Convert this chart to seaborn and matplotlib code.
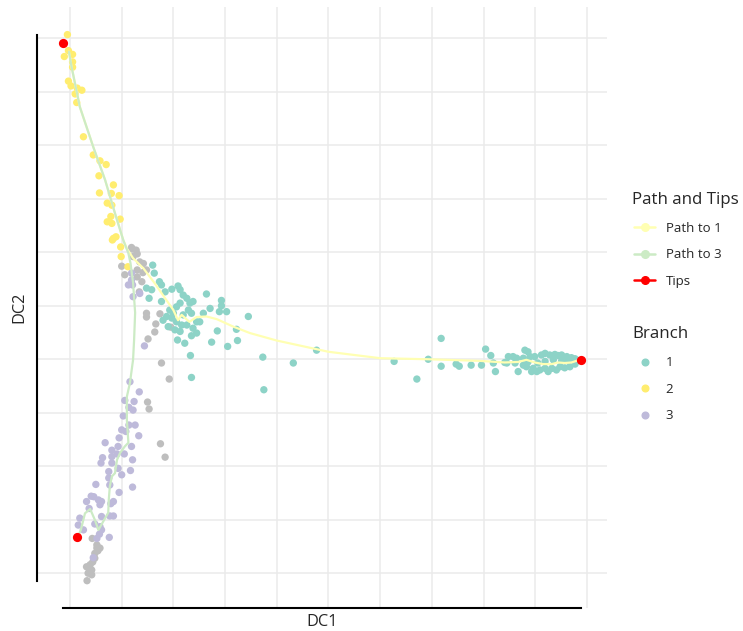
import numpy as np
import pandas as pd
import matplotlib
matplotlib.use("Agg")
import matplotlib.pyplot as plt
from matplotlib.lines import Line2D
from matplotlib.ticker import MultipleLocator
import seaborn as sns

# diffusion map coordinates (DC1, DC2), one array per branch
unassigned = np.array([
    [1.19, 6.09], [1.28, 6.04], [1.30, 5.97], [1.22, 5.92], [1.35, 5.82], [1.42, 5.79],
    [1.00, 5.74], [1.30, 5.67], [1.41, 5.62], [1.48, 5.67], [1.06, 5.58], [1.30, 5.54],
    [1.39, 5.45], [1.34, 5.26], [1.21, 6.06], [1.48, 4.86], [1.48, 4.79], [1.74, 4.85],
    [1.66, 4.66], [1.64, 4.51], [1.51, 4.38], [1.95, 4.60], [1.77, 3.93], [1.92, 3.63],
    [1.50, 3.20], [1.53, 3.07], [1.75, 2.42], [1.84, 2.17], [0.43, 0.65], [0.52, 0.53],
    [0.52, 0.47], [0.58, 0.47], [0.48, 0.37], [0.48, 0.28], [0.32, 0.12], [0.39, 0.16],
    [0.42, 0.06], [0.35, 0.00], [0.42, -0.03], [0.33, -0.14], [0.44, 0.21], [0.54, 0.42],
])

branch1 = np.array([
    [1.60, 5.76], [1.63, 5.61], [1.73, 5.45], [1.77, 5.39], [1.48, 5.33], [1.58, 5.30],
    [1.53, 5.14], [1.84, 5.26], [1.97, 5.31], [2.09, 5.37], [2.13, 5.30], [2.19, 5.20],
    [2.26, 5.14], [2.38, 5.08], [2.32, 5.05], [2.13, 5.05], [2.06, 4.98], [1.93, 4.92],
    [2.00, 4.86], [2.29, 4.92], [2.35, 4.86], [2.19, 4.83], [1.80, 4.73], [1.87, 4.80],
    [1.97, 4.77], [2.06, 4.70], [2.16, 4.64], [2.03, 4.55], [2.13, 4.52], [2.26, 4.64],
    [2.38, 4.58], [2.45, 4.49], [2.35, 4.44], [2.51, 4.70], [2.58, 4.86], [2.71, 4.95],
    [2.64, 5.22], [2.93, 5.10], [2.93, 5.00], [2.89, 4.89], [3.03, 4.89], [2.85, 4.53],
    [2.74, 4.32], [3.05, 4.24], [3.22, 4.56], [3.24, 4.35], [3.45, 4.80], [2.08, 4.36],
    [2.22, 4.30], [2.33, 4.07], [2.35, 3.66], [3.73, 4.04], [3.75, 3.43], [2.45, 4.70],
    [1.77, 5.08], [1.90, 4.61], [4.32, 3.93], [4.77, 4.17], [6.27, 3.96], [6.71, 3.63],
    [6.93, 4.00], [7.18, 4.39], [7.18, 3.87], [7.47, 3.91], [7.53, 3.87], [7.76, 3.89],
    [7.96, 3.89], [8.04, 4.19], [8.14, 4.07], [8.19, 3.93], [8.23, 3.77], [8.41, 3.94],
    [8.48, 4.05], [8.57, 4.05], [8.64, 4.02], [8.45, 3.93], [8.61, 3.93], [8.67, 3.77],
    [8.80, 4.17], [8.86, 4.14], [8.77, 4.02], [8.90, 4.05], [8.99, 4.05], [8.96, 3.83],
    [9.03, 3.77], [9.09, 3.80], [9.19, 3.83], [9.25, 3.77], [8.93, 3.77], [9.12, 4.08],
    [9.19, 4.11], [9.28, 4.08], [9.38, 4.09], [9.44, 4.07], [9.51, 4.08], [9.61, 4.05],
    [9.70, 4.03], [9.77, 4.01], [9.32, 3.83], [9.41, 3.80], [9.48, 3.86], [9.57, 3.84],
    [9.67, 3.86], [9.77, 3.91], [9.35, 3.99], [9.19, 3.96], [9.51, 3.97], [9.64, 3.97],
    [8.77, 3.89], [8.83, 3.86], [9.05, 3.93], [8.86, 3.95],
])

branch2 = np.array([
    [-0.05, 10.07], [-0.11, 9.66], [-0.03, 9.77], [0.05, 9.70], [0.05, 9.56], [0.05, 9.46],
    [-0.03, 9.20], [0.02, 9.11], [0.14, 9.07], [0.23, 9.03], [0.10, 8.96], [0.13, 8.80],
    [0.26, 8.16], [0.45, 7.82], [0.58, 7.71], [0.70, 7.64], [0.56, 7.43], [0.84, 7.26],
    [0.80, 7.10], [0.95, 7.06], [0.57, 7.11], [0.72, 6.92], [0.81, 6.88], [0.79, 6.67],
    [0.97, 6.62], [0.72, 6.57], [0.81, 6.54], [0.89, 6.29], [0.82, 6.23], [0.98, 6.10],
    [0.99, 5.92], [1.12, 5.73], [0.84, 6.26],
])

branch3 = np.array([
    [1.44, 4.25], [1.21, 5.39], [1.19, 5.48], [1.22, 5.17], [1.35, 5.23], [1.13, 5.39],
    [1.19, 5.61], [1.16, 3.58], [1.34, 3.39], [1.06, 3.23], [1.24, 3.21], [1.14, 3.10],
    [1.22, 3.05], [1.03, 2.94], [1.14, 2.77], [1.26, 2.77], [1.00, 2.68], [1.08, 2.65],
    [1.33, 2.57], [0.95, 2.53], [0.68, 2.44], [0.93, 2.37], [0.81, 2.30], [1.19, 2.37],
    [1.05, 2.23], [0.91, 2.23], [0.81, 2.18], [0.63, 2.16], [0.60, 2.06], [0.81, 2.06],
    [1.21, 2.12], [0.93, 1.96], [0.75, 1.90], [1.17, 1.92], [1.00, 1.84], [0.75, 1.78],
    [0.77, 1.65], [0.50, 1.66], [1.21, 1.61], [0.95, 1.51], [0.41, 1.44], [0.46, 1.43],
    [0.55, 1.37], [0.61, 1.34], [0.32, 1.34], [0.84, 1.34], [0.79, 1.30], [0.37, 1.21],
    [0.58, 1.28], [0.61, 1.06], [0.77, 1.07], [0.84, 1.07], [0.19, 1.03], [0.48, 0.92],
    [0.16, 0.90], [0.26, 0.81], [0.58, 0.87], [0.61, 0.81], [0.57, 0.73], [0.76, 0.67],
    [0.52, 0.65], [0.45, 0.29],
])

# paths from the root tip (top) to tips 1 and 3
path_to_1 = np.array([
    [-0.02, 9.75], [0.03, 9.47], [0.19, 8.72], [0.45, 7.97], [0.68, 7.35], [0.87, 6.73],
    [1.03, 6.23], [1.10, 6.07], [1.22, 5.89], [1.42, 5.70], [1.64, 5.42], [1.84, 5.14],
    [2.00, 4.92], [2.09, 4.73], [2.16, 4.83], [2.31, 4.70], [2.45, 4.79], [2.64, 4.80],
    [2.84, 4.75], [3.16, 4.61], [3.48, 4.49], [4.00, 4.35], [5.00, 4.14], [6.00, 4.02],
    [6.93, 4.00], [7.93, 3.97], [8.41, 3.94], [8.67, 3.95], [8.83, 3.99], [8.99, 3.94],
    [9.15, 3.91], [9.32, 3.91], [9.44, 3.94], [9.57, 3.93], [9.70, 3.94], [9.86, 3.99],
])

path_to_3 = np.array([
    [-0.02, 9.75], [0.03, 9.47], [0.19, 8.72], [0.45, 7.97], [0.68, 7.35], [0.87, 6.73],
    [1.03, 6.23], [1.13, 5.98], [1.17, 5.80], [1.22, 5.43], [1.26, 4.87], [1.24, 4.36],
    [1.22, 3.99], [1.16, 3.56], [1.10, 3.30], [1.10, 2.87], [1.13, 2.44], [1.06, 2.37],
    [0.97, 2.25], [0.91, 2.12], [0.87, 1.87], [0.81, 1.81], [0.77, 1.62], [0.75, 1.37],
    [0.74, 1.13], [0.68, 1.03], [0.55, 0.81], [0.48, 1.00], [0.39, 1.20], [0.29, 1.12],
    [0.21, 0.81], [0.15, 0.68],
])

tips = np.array([[-0.13, 9.92], [0.14, 0.67], [9.88, 3.99]])

branch_colors = {"NA": "#BEBEBE", "1": "#8DD3C7", "2": "#FFED6F", "3": "#BEBADA"}
path_colors = {"Path to 1": "#FFFFB3", "Path to 3": "#CCEBC5"}
tip_color = "#FF0000"

frames = []
for name, arr in [("NA", unassigned), ("3", branch3), ("2", branch2), ("1", branch1)]:
    frames.append(pd.DataFrame({"DC1": arr[:, 0], "DC2": arr[:, 1], "Branch": name}))
cells = pd.concat(frames, ignore_index=True)

sns.set_style("white")
plt.rcParams["font.family"] = ["Open Sans", "DejaVu Sans"]

fig = plt.figure(figsize=(7.43, 6.31), dpi=100)
ax = fig.add_axes([37.4 / 743, 23 / 631, 569.2 / 743, 600.7 / 631])

sns.scatterplot(data=cells, x="DC1", y="DC2", hue="Branch", palette=branch_colors,
                s=28, linewidth=0, alpha=1, legend=False, ax=ax, zorder=2)

for label, arr in [("Path to 1", path_to_1), ("Path to 3", path_to_3)]:
    sns.lineplot(x=arr[:, 0], y=arr[:, 1], sort=False, estimator=None,
                 color=path_colors[label], lw=1.6, ax=ax, zorder=3)

ax.scatter(tips[:, 0], tips[:, 1], s=44, color=tip_color, linewidth=0, zorder=4)

# ggplot style 5% expansion and range frame axes
all_pts = np.vstack([unassigned, branch1, branch2, branch3, tips])
xmin, ymin = all_pts.min(axis=0)
xmax, ymax = all_pts.max(axis=0)
dx, dy = (xmax - xmin) * 0.05, (ymax - ymin) * 0.05
ax.set_xlim(xmin - dx, xmax + dx)
ax.set_ylim(ymin - dy, ymax + dy)

ax.xaxis.set_major_locator(MultipleLocator(1))
ax.yaxis.set_major_locator(MultipleLocator(1))
ax.grid(True, color="#EBEBEB", lw=1.1)
ax.set_axisbelow(True)
ax.tick_params(length=0, labelbottom=False, labelleft=False)

for side in ["top", "right"]:
    ax.spines[side].set_visible(False)
for side in ["left", "bottom"]:
    ax.spines[side].set_color("black")
    ax.spines[side].set_linewidth(1.5)
ax.spines["left"].set_bounds(ymin, ymax)
ax.spines["bottom"].set_bounds(xmin, xmax)

ax.set_xlabel("DC1", fontsize=11.8, labelpad=4)
ax.set_ylabel("DC2", fontsize=11.8, labelpad=7)

leg_kw = dict(loc="upper left", frameon=False, fontsize=9.5,
              handlelength=1.6, handletextpad=0.8, labelspacing=1.02,
              borderpad=0, borderaxespad=0)

fig.text(632 / 743, 1 - 204.3 / 631, "Path and Tips", fontsize=12.2, va="baseline")
path_handles = [
    Line2D([0], [0], color=path_colors["Path to 1"], lw=1.8, marker="o", ms=5.5),
    Line2D([0], [0], color=path_colors["Path to 3"], lw=1.8, marker="o", ms=5.5),
    Line2D([0], [0], color=tip_color, lw=1.8, marker="o", ms=5.5),
]
fig.legend(path_handles, ["Path to 1", "Path to 3", "Tips"],
           bbox_to_anchor=(634 / 743, 1 - 222 / 631), **leg_kw)

fig.text(632 / 743, 1 - 338.3 / 631, "Branch", fontsize=12.2, va="baseline")
branch_handles = [Line2D([0], [0], ls="none", marker="o", ms=4.8, color=branch_colors[k])
                  for k in ["1", "2", "3"]]
fig.legend(branch_handles, ["1", "2", "3"],
           bbox_to_anchor=(634 / 743, 1 - 356.5 / 631), **leg_kw)

fig.savefig("out.png", dpi=100)
